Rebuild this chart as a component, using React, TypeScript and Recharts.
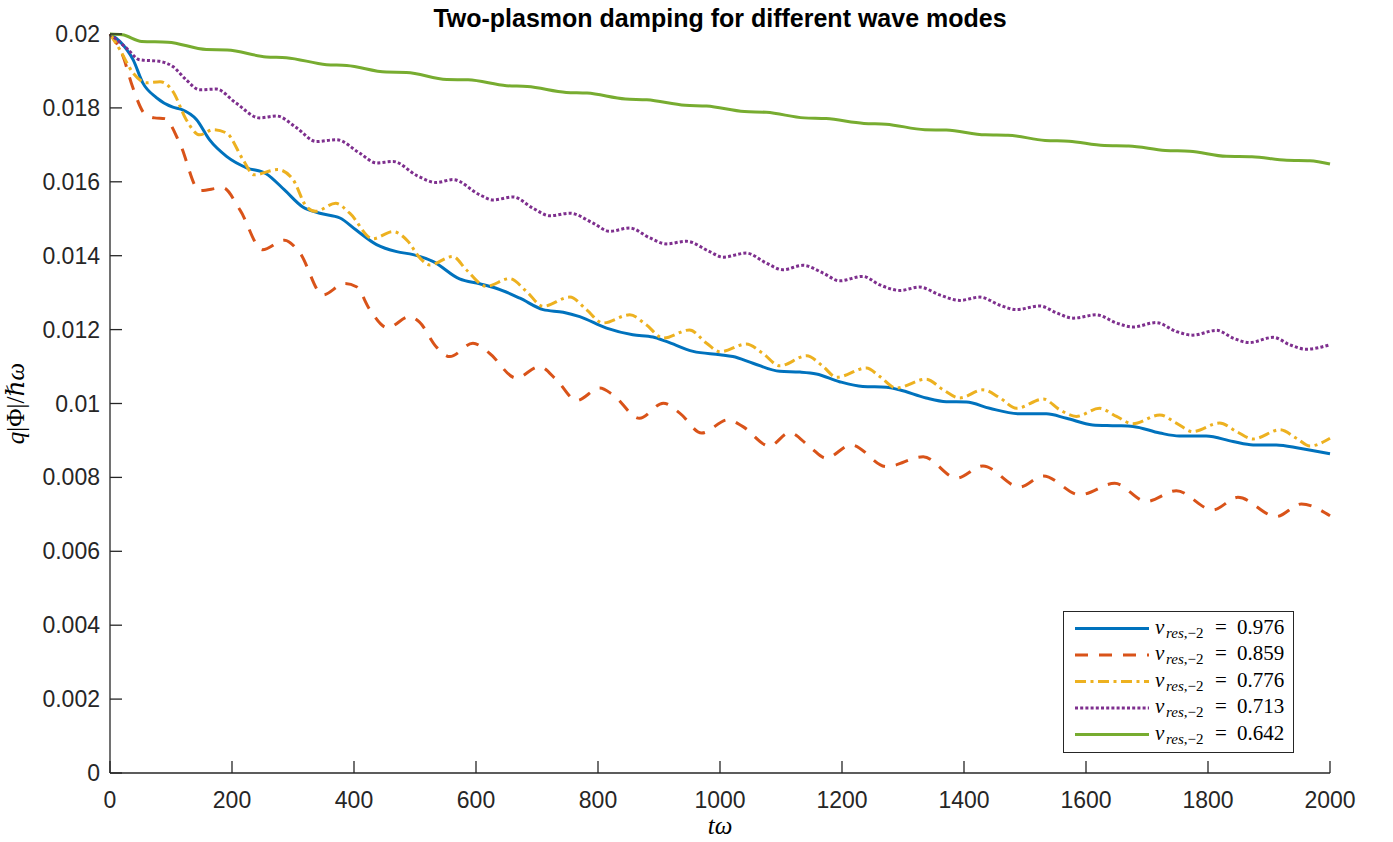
import { Label, Legend, Line, LineChart, XAxis, YAxis } from 'recharts'

// time samples (tω) and amplitudes, one pair of arrays per mode
const tA = [0, 16, 38, 54, 76, 103, 117, 142, 163, 191, 224, 256, 286, 316, 344, 377, 403, 437, 470, 497, 530, 573, 606, 633, 672, 710, 743, 770, 814, 857, 890, 912, 956, 1000, 1021, 1054, 1098, 1131, 1158, 1196, 1234, 1273, 1294, 1338, 1371, 1404, 1442, 1491, 1535, 1568, 1611, 1650, 1677, 1721, 1753, 1797, 1841, 1874, 1912, 1950, 2000]
const qA = [0.02, 0.0198, 0.0193, 0.01867, 0.01828, 0.01802, 0.01796, 0.01768, 0.01714, 0.01669, 0.01638, 0.01622, 0.01578, 0.01532, 0.01515, 0.01502, 0.0147, 0.0143, 0.01411, 0.01403, 0.01384, 0.01337, 0.01324, 0.01312, 0.01285, 0.01254, 0.01247, 0.01235, 0.01204, 0.01186, 0.0118, 0.01168, 0.01141, 0.01132, 0.01127, 0.01109, 0.01087, 0.01085, 0.0108, 0.01059, 0.01046, 0.01044, 0.01037, 0.01015, 0.01005, 0.01004, 0.00987, 0.00972, 0.00972, 0.0096, 0.00942, 0.0094, 0.00938, 0.0092, 0.00912, 0.00912, 0.00897, 0.00888, 0.00888, 0.00879, 0.00864]

const tB = [0, 21, 37, 57, 73, 90, 114, 147, 185, 213, 250, 286, 311, 349, 385, 404, 426, 455, 491, 507, 535, 557, 595, 622, 666, 704, 732, 765, 803, 825, 868, 907, 934, 970, 1013, 1037, 1081, 1114, 1147, 1174, 1215, 1273, 1333, 1388, 1431, 1491, 1530, 1590, 1647, 1699, 1748, 1808, 1849, 1912, 1953, 2000]
const qB = [0.02, 0.01941, 0.01857, 0.01784, 0.01773, 0.01771, 0.01706, 0.01576, 0.01584, 0.01524, 0.01416, 0.01442, 0.01408, 0.01294, 0.01325, 0.01316, 0.01254, 0.01205, 0.01235, 0.01221, 0.01153, 0.01127, 0.01163, 0.01136, 0.01069, 0.011, 0.01064, 0.01008, 0.01042, 0.01023, 0.0096, 0.01001, 0.00974, 0.0092, 0.00956, 0.00938, 0.00885, 0.00921, 0.00883, 0.00852, 0.00888, 0.00829, 0.00856, 0.00798, 0.00831, 0.00774, 0.00804, 0.00753, 0.00784, 0.00735, 0.00764, 0.00712, 0.00746, 0.00694, 0.00728, 0.00696]

const tC = [0, 16, 38, 60, 82, 103, 125, 147, 169, 191, 218, 236, 275, 300, 322, 337, 370, 393, 431, 464, 488, 508, 524, 562, 584, 617, 655, 683, 710, 754, 781, 808, 852, 879, 907, 950, 978, 1000, 1043, 1070, 1098, 1142, 1169, 1191, 1240, 1262, 1289, 1338, 1366, 1393, 1431, 1459, 1486, 1530, 1557, 1584, 1622, 1650, 1677, 1721, 1748, 1775, 1819, 1847, 1874, 1918, 1945, 1967, 2000]
const qC = [0.02, 0.01958, 0.01894, 0.01868, 0.01871, 0.01845, 0.01768, 0.01727, 0.01741, 0.01732, 0.0166, 0.01619, 0.01633, 0.01606, 0.01533, 0.0152, 0.01542, 0.01515, 0.01446, 0.01465, 0.0144, 0.01394, 0.01375, 0.01398, 0.01362, 0.01317, 0.01338, 0.01303, 0.01263, 0.01288, 0.01254, 0.01218, 0.0124, 0.01213, 0.01177, 0.01199, 0.01163, 0.0114, 0.01161, 0.01136, 0.01102, 0.01129, 0.011, 0.01071, 0.01096, 0.01073, 0.01042, 0.01066, 0.01037, 0.01015, 0.01037, 0.01015, 0.00987, 0.01012, 0.00983, 0.00965, 0.00987, 0.00965, 0.00945, 0.00969, 0.00947, 0.00924, 0.00947, 0.00924, 0.00904, 0.00929, 0.00906, 0.00885, 0.00906]

const tD = [0, 27, 49, 81, 103, 125, 147, 174, 206, 245, 273, 306, 338, 371, 409, 437, 464, 504, 535, 562, 606, 628, 661, 693, 721, 754, 792, 819, 852, 885, 912, 945, 983, 1005, 1043, 1076, 1103, 1136, 1169, 1196, 1234, 1262, 1295, 1327, 1360, 1393, 1426, 1459, 1486, 1524, 1552, 1579, 1617, 1650, 1677, 1715, 1748, 1775, 1814, 1841, 1868, 1907, 1934, 1961, 2000]
const qD = [0.02, 0.01962, 0.0193, 0.01926, 0.01912, 0.01876, 0.01849, 0.01851, 0.01814, 0.01773, 0.01778, 0.01746, 0.01709, 0.01714, 0.01678, 0.01651, 0.01655, 0.01616, 0.01598, 0.01606, 0.01565, 0.01551, 0.01559, 0.01529, 0.01508, 0.01515, 0.01488, 0.01466, 0.01475, 0.01448, 0.01432, 0.01439, 0.01411, 0.01396, 0.01407, 0.0138, 0.01362, 0.01374, 0.01353, 0.01332, 0.01344, 0.01321, 0.01306, 0.01315, 0.01294, 0.01279, 0.01288, 0.01266, 0.01254, 0.01264, 0.01245, 0.01231, 0.0124, 0.01218, 0.01207, 0.01219, 0.01195, 0.01185, 0.01198, 0.01177, 0.01165, 0.01179, 0.01159, 0.01147, 0.01159]

const tE = [0, 20, 52, 95, 158, 192, 256, 289, 355, 388, 453, 486, 552, 587, 650, 684, 748, 782, 845, 880, 943, 978, 1040, 1076, 1138, 1174, 1236, 1272, 1336, 1371, 1435, 1472, 1533, 1572, 1630, 1670, 1730, 1770, 1830, 1872, 1929, 1967, 2000]
const qE = [0.02, 0.01998, 0.0198, 0.01978, 0.01958, 0.01957, 0.01938, 0.01936, 0.01917, 0.01915, 0.01897, 0.01896, 0.01877, 0.01876, 0.0186, 0.01858, 0.01842, 0.0184, 0.01824, 0.01822, 0.01807, 0.01805, 0.0179, 0.01788, 0.01773, 0.01771, 0.01758, 0.01756, 0.01741, 0.0174, 0.01727, 0.01726, 0.01712, 0.0171, 0.01698, 0.01697, 0.01685, 0.01683, 0.01669, 0.01668, 0.01658, 0.01657, 0.01648]

const vres = ['0.976', '0.859', '0.776', '0.713', '0.642']
const xTicks = [0, 200, 400, 600, 800, 1000, 1200, 1400, 1600, 1800, 2000]
const yTicks = [0, 0.002, 0.004, 0.006, 0.008, 0.01, 0.012, 0.014, 0.016, 0.018, 0.02]

const toRows = (t: number[], q: number[]) => t.map((x, i) => ({ t: x, q: q[i] }))

const series = [
    { key: 'a', rows: toRows(tA, qA), color: '#0072BD', dash: undefined as string | undefined, label: vres[0] },
    { key: 'b', rows: toRows(tB, qB), color: '#D95319', dash: '13 11', label: vres[1] },
    { key: 'c', rows: toRows(tC, qC), color: '#EDB120', dash: '11 4.5 3 4.5', label: vres[2] },
    { key: 'd', rows: toRows(tD, qD), color: '#7E2F8E', dash: '3 2.2', label: vres[3] },
    { key: 'e', rows: toRows(tE, qE), color: '#77AC30', dash: undefined as string | undefined, label: vres[4] },
]

const AXIS = '#262626'
const SANS = 'Liberation Sans, Arial, Helvetica, sans-serif'
const SERIF = 'Liberation Serif, DejaVu Serif, serif'

const fmtY = (v: number) => (v === 0 ? '0' : String(+v.toFixed(3)))

const YTick = (props: any) => {
    const { x, y, payload } = props
    return (
        <g>
            <line x1={x} x2={x + 12} y1={y} y2={y} stroke={AXIS} strokeWidth={1.3} />
            <text x={x - 10} y={y + 8} textAnchor="end" fontFamily={SANS} fontSize={23} fill={AXIS}>
                {fmtY(payload.value)}
            </text>
        </g>
    )
}

const XTick = (props: any) => {
    const { x, y, payload } = props
    return (
        <g>
            <line x1={x} x2={x} y1={y} y2={y - 12} stroke={AXIS} strokeWidth={1.3} />
            <text x={x} y={y + 35} textAnchor="middle" fontFamily={SANS} fontSize={23} fill={AXIS}>
                {payload.value}
            </text>
        </g>
    )
}

const LegendBox = () => (
    <svg width={231} height={142} style={{ display: 'block' }}>
        <rect x={0.5} y={0.5} width={230} height={141} fill="#fff" stroke={AXIS} strokeWidth={1} />
        {series.map((s, i) => {
            const cy = 17.5 + i * 26.5
            return (
                <g key={s.key}>
                    <line x1={12} x2={86} y1={cy} y2={cy} stroke={s.color} strokeWidth={3} strokeDasharray={s.dash} />
                    <text y={cy + 5} fontFamily={SERIF} fontSize={21} fill="#000">
                        <tspan x={92} fontStyle="italic">v</tspan>
                        <tspan x={103} dy={4} fontSize={15} fontStyle="italic">res</tspan>
                        <tspan fontSize={15}>,−2</tspan>
                        <tspan x={152} dy={-4}>=</tspan>
                        <tspan x={174}>{s.label}</tspan>
                    </text>
                </g>
            )
        })}
    </svg>
)

export default function App() {
    return (
        <div style={{ position: 'absolute', left: 0, top: 0, width: 1393, height: 842, background: '#fff' }}>
            <div
                style={{
                    position: 'absolute', left: 110, top: 6, width: 1220, textAlign: 'center',
                    fontFamily: SANS, fontWeight: 'bold', fontSize: 25, lineHeight: '25px', color: '#000', zIndex: 2,
                }}
            >
                Two-plasmon damping for different wave modes
            </div>
            <LineChart width={1393} height={842} margin={{ top: 34, right: 63, bottom: 0, left: 0 }}>
                <XAxis
                    dataKey="t"
                    type="number"
                    domain={[0, 2000]}
                    ticks={xTicks}
                    height={69}
                    tickSize={0}
                    tickMargin={0}
                    tickLine={false}
                    tick={<XTick />}
                    axisLine={{ stroke: AXIS, strokeWidth: 1.3 }}
                >
                    <Label
                        content={(p: any) => {
                            const vb = p.viewBox
                            return (
                                <text x={vb.x + vb.width / 2} y={vb.y + 61} textAnchor="middle" fontFamily={SERIF} fontSize={25} fontStyle="italic" fill="#000">
                                    tω
                                </text>
                            )
                        }}
                    />
                </XAxis>
                <YAxis
                    type="number"
                    domain={[0, 0.02]}
                    ticks={yTicks}
                    width={110}
                    tickSize={0}
                    tickMargin={0}
                    tickLine={false}
                    tick={<YTick />}
                    axisLine={{ stroke: AXIS, strokeWidth: 1.3 }}
                >
                    <Label
                        content={(p: any) => {
                            const vb = p.viewBox
                            const cx = vb.x + 24
                            const cy = vb.y + vb.height / 2
                            return (
                                <text transform={`translate(${cx},${cy}) rotate(-90)`} textAnchor="middle" fontFamily={SERIF} fontSize={25} fill="#000">
                                    <tspan fontStyle="italic">q</tspan>
                                    <tspan>|Φ|/</tspan>
                                    <tspan fontStyle="italic">ℏω</tspan>
                                </text>
                            )
                        }}
                    />
                </YAxis>
                <Legend
                    layout="vertical"
                    align="center"
                    verticalAlign="middle"
                    wrapperStyle={{ left: 1063, top: 611, width: 231, height: 142 }}
                    content={() => <LegendBox />}
                />
                {series.map((s) => (
                    <Line
                        key={s.key}
                        data={s.rows}
                        dataKey="q"
                        name={s.label}
                        type="monotone"
                        stroke={s.color}
                        strokeWidth={3}
                        strokeDasharray={s.dash}
                        dot={false}
                        activeDot={false}
                        isAnimationActive={false}
                    />
                ))}
            </LineChart>
        </div>
    )
}
